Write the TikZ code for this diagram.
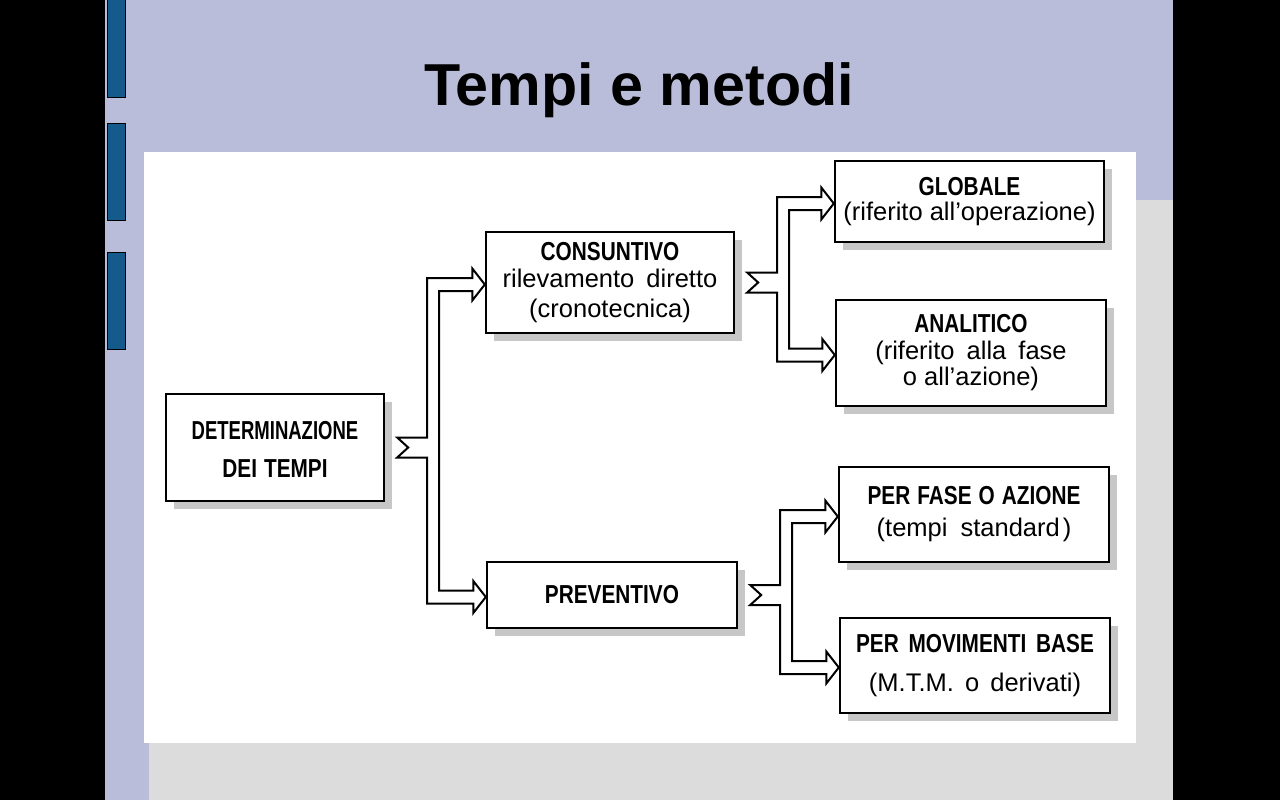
\documentclass[tikz,border=0pt]{standalone}
\usepackage{fontspec}
\usepackage{graphicx}
\setmainfont{Liberation Sans}
\newfontfamily\capsfont{Liberation Sans}[FakeStretch=0.8]
\usetikzlibrary{calc,shadows}
\definecolor{lav}{HTML}{B9BDD9}
\definecolor{slgrey}{HTML}{DCDCDC}
\definecolor{barblue}{HTML}{145B8B}
\newcommand{\hd}{\capsfont\bfseries\fontsize{26}{27}\selectfont}
\newcommand{\tx}{\fontsize{25.5}{27}\selectfont}
\newcommand{\gapw}{\hspace{7pt}}
\newcommand{\splitconn}[3]{%
\draw[conn] let \p1=(#1.east), \p2=(#2.west), \p3=(#3.west) in
 (\x1+12pt,\y1+10pt) -- (\x1+42pt,\y1+10pt) -- (\x1+42pt,\y2+4.5pt)
 -- (\x2-12.5pt,\y2+4.5pt) -- (\x2-12.5pt,\y2+14pt) -- (\x2,\y2-2pt)
 -- (\x2-12.5pt,\y2-18pt) -- (\x2-12.5pt,\y2-8.5pt) -- (\x1+54pt,\y2-8.5pt)
 -- (\x1+54pt,\y3+4.5pt) -- (\x3-12.5pt,\y3+4.5pt) -- (\x3-12.5pt,\y3+14pt)
 -- (\x3,\y3-2pt) -- (\x3-12.5pt,\y3-18pt) -- (\x3-12.5pt,\y3-8.5pt)
 -- (\x1+42pt,\y3-8.5pt) -- (\x1+42pt,\y1-10pt) -- (\x1+12pt,\y1-10pt)
 -- (\x1+23pt,\y1) -- cycle;}
\begin{document}
\begin{tikzpicture}[x=1pt,y=-1pt,
  box/.style={draw, line width=2.4pt, fill=white, inner sep=0pt, align=center, font=\tx,
    drop shadow={shadow xshift=8pt, shadow yshift=-8pt, fill=black!22, opacity=1}},
  conn/.style={draw, line width=2pt, line join=miter},
  bar/.style={draw=black, line width=1pt, fill=barblue}]
\useasboundingbox (0,0) rectangle (1280,800);
% slide background
\fill[black] (0,0) rectangle (1280,800);
\fill[lav] (105,0) rectangle (1173,800);
\fill[slgrey] (149,200) rectangle (1173,800);
\fill[white] (144,152) rectangle (1136,743);
\draw[bar] (107,0) rectangle (125,97);
\draw[bar] (107,123) rectangle (125,220);
\draw[bar] (107,252) rectangle (125,349);
% title
\node[font=\bfseries\fontsize{59.2}{60}\selectfont, anchor=base] (title) at (639,105) {Tempi e metodi};
% boxes
\node[box, minimum width=218pt, minimum height=107pt, text depth=0pt] (det) at (275,447.5)
  {\raisebox{-4pt}{\hd\scalebox{0.89}[1]{DETERMINAZIONE}}\\[11pt]\raisebox{-4pt}{\hd DEI\gapw TEMPI}};
\node[box, minimum width=248pt, minimum height=101pt] (cons) at (610,282.5)
  {{\hd CONSUNTIVO}\\rilevamento\hspace{5pt} diretto\\[3pt](cronotecnica)};
\node[box, minimum width=250pt, minimum height=66pt] (prev) at (612,595)
  {{\hd PREVENTIVO}};
\node[box, minimum width=269pt, minimum height=81pt] (glob) at (969.5,201.5)
  {{\hd GLOBALE}\\[-2pt](riferito all’operazione)};
\node[box, minimum width=270pt, minimum height=106pt] (anal) at (971,353)
  {{\hd ANALITICO}\\(riferito\hspace{5pt} alla\hspace{5pt} fase\\[-1pt]o all’azione)};
\node[box, minimum width=270pt, minimum height=95pt] (fase) at (974,514.5)
  {{\hd PER\gapw FASE\gapw O\gapw AZIONE}\\[5pt](tempi\hspace{6pt} standard\hspace{3pt})};
\node[box, minimum width=270pt, minimum height=95pt] (mov) at (975,665.5)
  {{\hd PER\hspace{4pt} MOVIMENTI\hspace{4pt} BASE}\\[12pt](M.T.M.\hspace{4pt} o\hspace{4pt} derivati)};
% connectors
\splitconn{det}{cons}{prev}
\splitconn{cons}{glob}{anal}
\splitconn{prev}{fase}{mov}
\end{tikzpicture}
\end{document}
